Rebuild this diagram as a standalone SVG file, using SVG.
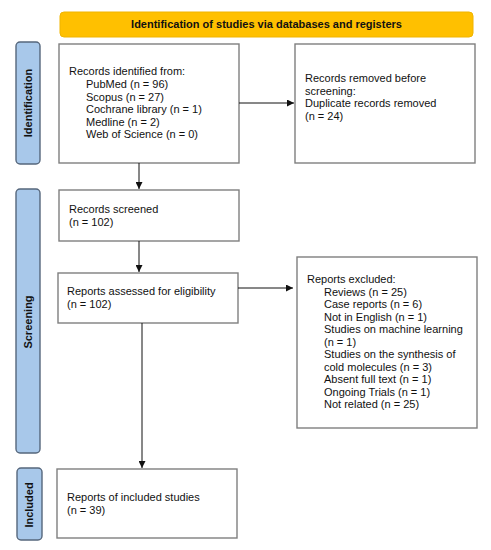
<svg xmlns="http://www.w3.org/2000/svg" width="491" height="550" viewBox="0 0 491 550">
<defs>
<style>
.box{fill:#fff;stroke:#7f7f7f;stroke-width:1.4}
.side{fill:#a8c8ea;stroke:#56677c;stroke-width:1.4}
.hdr{fill:#ffc000;stroke:#f0b400;stroke-width:1}
text{font-family:"Liberation Sans",Arial,sans-serif;font-size:11px;fill:#111}
.b{font-weight:bold}
.lbl{font-weight:bold;text-anchor:middle}
.conn{stroke:#111;stroke-width:1;fill:none;marker-end:url(#ah)}
</style>
<marker id="ah" viewBox="0 0 10 10" refX="10" refY="5" markerWidth="7" markerHeight="7" markerUnits="userSpaceOnUse" orient="auto">
<path d="M0,0 L10,5 L0,10 z" fill="#111"/>
</marker>
</defs>
<rect width="491" height="550" fill="#fff"/>
<g id="header">
<rect class="hdr" x="60" y="12" width="413" height="25" rx="4"/>
<text class="b" x="266.5" y="28" text-anchor="middle">Identification of studies via databases and registers</text>
</g>
<g id="side-identification">
<rect class="side" x="16" y="42" width="24" height="122" rx="4"/>
<text class="lbl" transform="translate(32,103) rotate(-90)">Identification</text>
</g>
<g id="side-screening">
<rect class="side" x="16" y="189" width="24" height="264" rx="4"/>
<text class="lbl" transform="translate(32,322) rotate(-90)">Screening</text>
</g>
<g id="side-included">
<rect class="side" x="17" y="468" width="25" height="72" rx="4"/>
<text class="lbl" transform="translate(33,505) rotate(-90)">Included</text>
</g>
<g id="records-identified">
<rect class="box" x="59" y="44" width="180" height="119"/>
<text x="69" y="75">Records identified from:</text>
<text x="86" y="88">PubMed (n = 96)</text>
<text x="86" y="100.5">Scopus (n = 27)</text>
<text x="86" y="113">Cochrane library (n = 1)</text>
<text x="86" y="125.5">Medline (n = 2)</text>
<text x="86" y="138">Web of Science (n = 0)</text>
</g>
<g id="records-removed">
<rect class="box" x="295" y="44" width="180" height="119"/>
<text x="305" y="82">Records removed before</text>
<text x="305" y="94.5">screening:</text>
<text x="305" y="107">Duplicate records removed</text>
<text x="305" y="119.5">(n = 24)</text>
</g>
<g id="records-screened">
<rect class="box" x="59" y="190" width="180" height="51"/>
<text x="69" y="213">Records screened</text>
<text x="69" y="226">(n = 102)</text>
</g>
<g id="reports-assessed">
<rect class="box" x="58" y="273" width="180" height="50"/>
<text x="67" y="295">Reports assessed for eligibility</text>
<text x="67" y="308">(n = 102)</text>
</g>
<g id="reports-excluded">
<rect class="box" x="297" y="257" width="180" height="171"/>
<text x="307" y="283">Reports excluded:</text>
<text x="324" y="295.5">Reviews (n = 25)</text>
<text x="324" y="308">Case reports (n = 6)</text>
<text x="324" y="320.5">Not in English (n = 1)</text>
<text x="324" y="333">Studies on machine learning</text>
<text x="324" y="345.5">(n = 1)</text>
<text x="324" y="358">Studies on the synthesis of</text>
<text x="324" y="370.5">cold molecules (n = 3)</text>
<text x="324" y="383">Absent full text (n = 1)</text>
<text x="324" y="395.5">Ongoing Trials (n = 1)</text>
<text x="324" y="408">Not related (n = 25)</text>
</g>
<g id="reports-included">
<rect class="box" x="57" y="469" width="180" height="69"/>
<text x="67" y="501">Reports of included studies</text>
<text x="67" y="514">(n = 39)</text>
</g>
<g id="connectors">
<path class="conn" d="M239,103 H294"/>
<path class="conn" d="M139,163 V189"/>
<path class="conn" d="M139,241 V272"/>
<path class="conn" d="M238,288 H293"/>
<path class="conn" d="M142,323 V468"/>
</g>
</svg>
